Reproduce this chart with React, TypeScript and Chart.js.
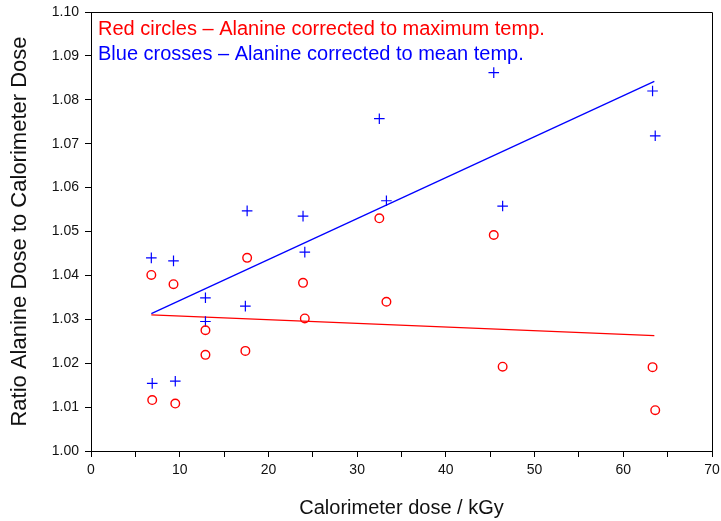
import React, { useEffect, useRef } from "react";
import { Chart, registerables } from "chart.js";

Chart.register(...registerables);

// Calorimeter dose (kGy) for each measurement
const doseX = [6.8, 9.3, 12.9, 12.9, 17.6, 17.4, 23.9, 24.1, 32.5, 33.3, 45.4, 46.4, 63.3, 63.6, 6.9, 9.5];
// Blue crosses – alanine corrected to mean temp.
const blueY = [1.044, 1.0433, 1.0349, 1.0295, 1.0547, 1.033, 1.0535, 1.0453, 1.0757, 1.057, 1.0862, 1.0558, 1.082, 1.0718, 1.0154, 1.0159];
// Red circles – alanine corrected to maximum temp.
const redY = [1.0401, 1.038, 1.0275, 1.0219, 1.044, 1.0228, 1.0383, 1.0302, 1.053, 1.034, 1.0492, 1.0192, 1.0191, 1.0093, 1.0116, 1.0108];
// Fitted lines
const fitX = [6.8, 63.5];
const blueFit = [1.0313, 1.0842];
const redFit = [1.031, 1.0263];

const xMin = 0;
const xMax = 70;
const yMin = 1.0;
const yMax = 1.1;

const legendLines = [
  { text: "Red circles \u2013 Alanine corrected to maximum temp.", color: "#ff0000" },
  { text: "Blue crosses \u2013 Alanine corrected to mean temp.", color: "#0000ff" },
];
const xTitle = "Calorimeter dose / kGy";
const yTitle = "Ratio Alanine Dose to Calorimeter Dose";

const FONT = "'Liberation Sans', Arial, Helvetica, sans-serif";

const pts = (xs: number[], ys: number[]) => xs.map((x, i) => ({ x, y: ys[i] }));

const boxPlugin = {
  id: "boxPlugin",
  afterDraw(chart: any) {
    const { ctx, chartArea } = chart;
    const l = Math.round(chartArea.left) + 0.5;
    const t = Math.round(chartArea.top) + 0.5;
    const r = Math.round(chartArea.right) + 0.5;
    const b = Math.round(chartArea.bottom) + 0.5;
    ctx.save();
    ctx.strokeStyle = "#000";
    ctx.lineWidth = 1;
    ctx.beginPath();
    ctx.moveTo(l, t);
    ctx.lineTo(r, t);
    ctx.lineTo(r, b);
    ctx.stroke();
    ctx.restore();
  },
};

const legendPlugin = {
  id: "textLegend",
  afterDatasetsDraw(chart: any) {
    const { ctx, chartArea } = chart;
    ctx.save();
    ctx.font = `20px ${FONT}`;
    ctx.textAlign = "left";
    ctx.textBaseline = "alphabetic";
    legendLines.forEach((ln, i) => {
      ctx.fillStyle = ln.color;
      ctx.fillText(ln.text, chartArea.left + 7, chartArea.top + 23 + i * 25);
    });
    ctx.restore();
  },
};

export default function App() {
  const ref = useRef<HTMLCanvasElement | null>(null);

  useEffect(() => {
    if (!ref.current) return;
    const chart = new Chart(ref.current, {
      type: "scatter",
      data: {
        datasets: [
          {
            label: "Red circles",
            data: pts(doseX, redY),
            pointStyle: "circle",
            pointRadius: 4.3,
            borderColor: "#ff0000",
            backgroundColor: "rgba(0,0,0,0)",
            pointBorderWidth: 1.4,
            showLine: false,
          },
          {
            label: "Blue crosses",
            data: pts(doseX, blueY),
            pointStyle: "cross",
            pointRadius: 5.3,
            borderColor: "#0000ff",
            backgroundColor: "#0000ff",
            pointBorderWidth: 1.2,
            showLine: false,
          },
          {
            label: "Red fit",
            data: pts(fitX, redFit),
            showLine: true,
            pointRadius: 0,
            borderColor: "#ff0000",
            borderWidth: 1.3,
          },
          {
            label: "Blue fit",
            data: pts(fitX, blueFit),
            showLine: true,
            pointRadius: 0,
            borderColor: "#0000ff",
            borderWidth: 1.3,
          },
        ],
      },
      options: {
        responsive: false,
        animation: false,
        layout: { padding: { top: 12, right: 9, left: 0, bottom: 0 } },
        plugins: {
          legend: { display: false },
          tooltip: { enabled: false },
        },
        scales: {
          x: {
            type: "linear",
            min: xMin,
            max: xMax,
            afterFit(scale: any) {
              scale.height = 70;
              scale.paddingLeft = 0;
              scale.paddingRight = 0;
            },
            border: { display: true, color: "#000", width: 1 },
            grid: { drawOnChartArea: false, drawTicks: true, tickLength: 6, color: "#000" },
            ticks: {
              stepSize: 5,
              padding: 5,
              color: "#111",
              font: { family: FONT, size: 14 },
              maxRotation: 0,
              autoSkip: false,
              callback: (v: any) => (Number(v) % 10 === 0 ? String(v) : ""),
            },
            title: {
              display: true,
              text: xTitle,
              color: "#111",
              font: { family: FONT, size: 20 },
              padding: { top: 0, bottom: 1 },
            },
          },
          y: {
            type: "linear",
            min: yMin,
            max: yMax,
            afterFit(scale: any) {
              scale.width = 91;
              scale.paddingTop = 0;
              scale.paddingBottom = 0;
            },
            border: { display: true, color: "#000", width: 1 },
            grid: { drawOnChartArea: false, drawTicks: true, tickLength: 6, color: "#000" },
            ticks: {
              stepSize: 0.01,
              padding: 6,
              color: "#111",
              font: { family: FONT, size: 14 },
              autoSkip: false,
              callback: (v: any) => Number(v).toFixed(2),
            },
            title: {
              display: true,
              text: yTitle,
              color: "#111",
              font: { family: FONT, size: 22 },
              padding: { top: 7, bottom: 0 },
            },
          },
        },
      },
      plugins: [boxPlugin, legendPlugin],
    } as any);
    return () => chart.destroy();
  }, []);

  return (
    <div style={{ position: "absolute", left: 0, top: 0, width: 721, height: 521, background: "#fff" }}>
      <canvas ref={ref} width={721} height={521} style={{ display: "block" }} />
    </div>
  );
}
